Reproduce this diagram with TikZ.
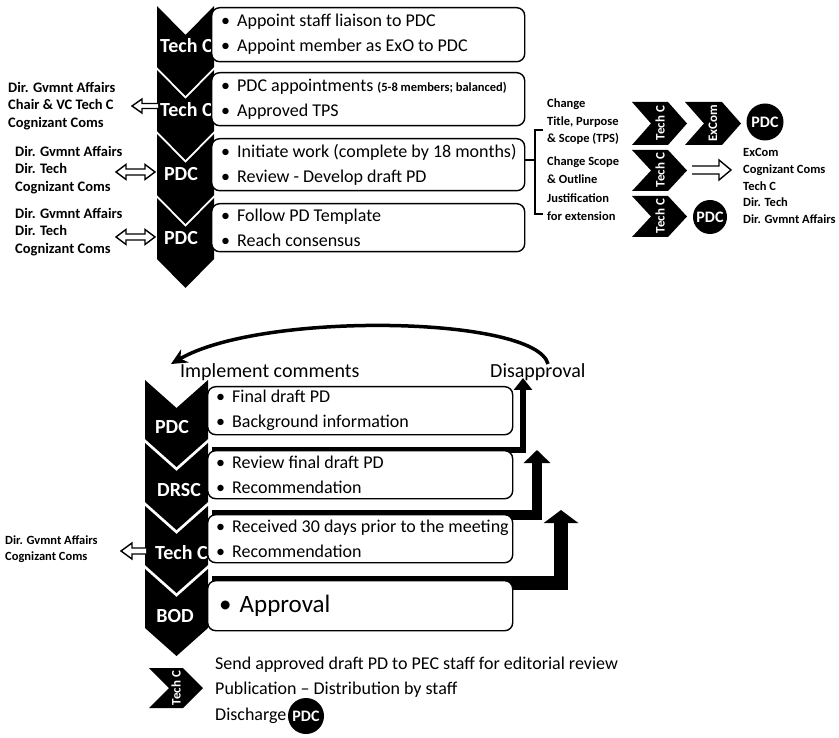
\documentclass[tikz,border=0pt]{standalone}
\usepackage{fontspec}
\setmainfont{Carlito}
\usetikzlibrary{arrows.meta,calc}
\newcommand{\mydchev}[5]{\fill (#1,#3) -- ({(#1+#2)/2},{#3+#5}) -- (#2,#3) -- (#2,{#3+#4}) -- ({(#1+#2)/2},{#3+#4+#5}) -- (#1,{#3+#4}) -- cycle;}
\newcommand{\myrchev}[5]{\fill (#1,#2) -- ({#1+#3},#2) -- ({#1+#3+#5},{#2+#4/2}) -- ({#1+#3},{#2+#4}) -- (#1,{#2+#4}) -- ({#1+#5},{#2+#4/2}) -- cycle;}
% hollow block arrow: tail x, tip x, y, shaft half height, head half height, head length
\newcommand{\myharrow}[6]{%
  \pgfmathsetmacro{\mySgn}{(#2>#1)?1:-1}%
  \draw[hollowblock] (#1,{#3-#4}) -- ({#2-\mySgn*#6},{#3-#4}) -- ({#2-\mySgn*#6},{#3-#5}) -- (#2,#3) -- ({#2-\mySgn*#6},{#3+#5}) -- ({#2-\mySgn*#6},{#3+#4}) -- (#1,{#3+#4});}
% double-headed hollow block arrow: left tip, right tip, y, shaft half, head half, head length
\newcommand{\myhdarrow}[6]{%
  \draw[hollowblock] (#1,#3) -- ({#1+#6},{#3-#5}) -- ({#1+#6},{#3-#4}) -- ({#2-#6},{#3-#4}) -- ({#2-#6},{#3-#5}) -- (#2,#3) -- ({#2-#6},{#3+#5}) -- ({#2-#6},{#3+#4}) -- ({#1+#6},{#3+#4}) -- ({#1+#6},{#3+#5}) -- cycle;}
\begin{document}
\begin{tikzpicture}[x=1pt,y=-1pt,
  box/.style={draw=black, line width=1.4pt, fill=white, rounded corners=8pt, anchor=north west, inner sep=0pt},
  btxt/.style={anchor=west, align=left, inner sep=0pt, font=\fontsize{18}{25}\selectfont},
  clab/.style={text=white, font=\fontsize{20}{20}\selectfont\bfseries, inner sep=0pt},
  slab/.style={text=white, font=\fontsize{13}{13}\selectfont\bfseries, inner sep=0pt, rotate=90},
  side/.style={anchor=west, align=left, inner sep=0pt, font=\fontsize{14.5}{17.5}\selectfont\bfseries},
  sidesmall/.style={anchor=west, align=left, inner sep=0pt, font=\fontsize{12.5}{16}\selectfont\bfseries},
  rside/.style={anchor=west, align=left, inner sep=0pt, font=\fontsize{12.5}{17.5}\selectfont\bfseries},
  circ/.style={circle, fill=black, text=white, minimum size=37pt, inner sep=0pt, font=\fontsize{16}{16}\selectfont\bfseries},
  hollowblock/.style={draw=black, line width=1.4pt, fill=white, line join=miter},
  big/.style={anchor=west, inner sep=0pt, font=\fontsize{20}{20}\selectfont},
  bottxt/.style={anchor=west, inner sep=0pt, font=\fontsize{18}{18}\selectfont},
]
\useasboundingbox (0,0) rectangle (839,738);

% ---------- upper chevrons ----------
\mydchev{157}{214}{6}{61}{29}
\mydchev{157}{214}{70}{61}{29}
\mydchev{157}{214}{134}{61}{29}
\mydchev{157}{214}{198}{61}{29}
\node[clab, anchor=west] (c1) at (160,46) {Tech C};
\node[clab, anchor=west] (c2) at (160,110) {Tech C};
\node[clab] (c3) at (181,174) {PDC};
\node[clab] (c4) at (181,238) {PDC};

% ---------- upper boxes ----------
\node[box, minimum width=313pt, minimum height=54pt] (b1) at (211,7) {};
\node[box, minimum width=313pt, minimum height=53pt] (b2) at (211,72) {};
\node[box, minimum width=313pt, minimum height=52pt] (b3) at (211,138) {};
\node[box, minimum width=313pt, minimum height=48pt] (b4) at (211,203) {};
\node[btxt] (t1) at ([xshift=10pt]b1.west) {\textbullet\hspace{7pt}Appoint staff liaison to PDC\\\textbullet\hspace{7pt}Appoint member as ExO to PDC};
\node[btxt] (t2) at ([xshift=10pt]b2.west) {\textbullet\hspace{7pt}PDC appointments {\fontsize{12.5}{14}\selectfont\bfseries (5-8 members; balanced)}\\\textbullet\hspace{7pt}Approved TPS};
\node[btxt] (t3) at ([xshift=10pt]b3.west) {\textbullet\hspace{7pt}Initiate work (complete by 18 months)\\\textbullet\hspace{7pt}Review - Develop draft PD};
\node[btxt] (t4) at ([xshift=10pt]b4.west) {\textbullet\hspace{7pt}Follow PD Template\\\textbullet\hspace{7pt}Reach consensus};

% ---------- upper left labels ----------
\node[side] (l2) at (8,106) {Dir. Gvmnt Affairs\\Chair \& VC Tech C\\Cognizant Coms};
\node[side] (l3) at (15,170) {Dir. Gvmnt Affairs\\Dir. Tech\\Cognizant Coms};
\node[side] (l4) at (15,232) {Dir. Gvmnt Affairs\\Dir. Tech\\Cognizant Coms};
\myharrow{158}{132}{106}{2.5}{7}{10}
\myhdarrow{116}{155}{172}{3}{7.5}{10}
\myhdarrow{116}{155}{237}{3}{7.5}{10}

% ---------- bracket and right side ----------
\coordinate (brm) at (535,160);
\draw[line width=2.5pt] (b3.east |- brm) -- (brm);
\draw[line width=2.5pt] (543,130) -- (535,130) -- (535,214) -- (543,214);
\node[rside] (r1) at (547,122) {Change\\Title, Purpose\\\& Scope (TPS)};
\node[rside] (r2) at (547,170) {Change Scope\\\& Outline};
\node[rside] (r3) at (547,207) {Justification\\for extension};

\myrchev{632}{102}{36}{43}{19}
\myrchev{685}{102}{37}{43}{19}
\node[slab] (s1) at (660,123) {Tech C};
\node[slab] (s2) at (713,123) {ExCom};
\node[circ] (p1) at (765,122) {PDC};

\myrchev{632}{150}{36}{41}{19}
\node[slab] (s3) at (660,170) {Tech C};
\myharrow{692}{731}{170}{4}{10}{12}
\node[rside, font=\fontsize{12.5}{16.8}\selectfont\bfseries] (r4) at (743,186) {ExCom\\Cognizant Coms\\Tech C\\Dir. Tech\\Dir. Gvmnt Affairs};

\myrchev{632}{196}{36}{41}{19}
\node[slab] (s4) at (660,216) {Tech C};
\node[circ, minimum size=34pt] (p2) at (710,217) {PDC};

% ---------- lower section ----------
\node[big] (impl) at (180,372) {Implement comments};
\node[big] (dis) at (490,372) {Disapproval};
\coordinate (arcA) at (548,364); \coordinate (arcB) at (171,364);
\draw[line width=3.5pt, -{Stealth[length=16pt,width=15pt]}] (arcA) .. controls (536,316) and (262,311) .. (arcB);

\mydchev{145}{208}{380}{59}{28}
\mydchev{145}{208}{443}{59}{28}
\mydchev{145}{208}{506}{59}{28}
\mydchev{145}{208}{569}{59}{28}
\node[clab] (d1) at (172,427) {PDC};
\node[clab, anchor=west] (d2) at (157,490) {DRSC};
\node[clab, anchor=west] (d3) at (155,553) {Tech C};
\node[clab] (d4) at (175,616) {BOD};

% elbow arrows (behind boxes)
\coordinate (e1s) at (212,450); \coordinate (e1t) at (523,378);
\coordinate (e2s) at (212,515); \coordinate (e2t) at (537,450);
\coordinate (e3s) at (212,583); \coordinate (e3t) at (561,510);
\draw[line width=6pt, -{Triangle[width=18pt,length=12pt]}] (e1s) -| (e1t);
\draw[line width=10pt, -{Triangle[width=26pt,length=13pt]}] (e2s) -| (e2t);
\draw[line width=14pt, -{Triangle[width=34pt,length=13pt]}] (e3s) -| (e3t);

\node[box, minimum width=305pt, minimum height=48pt] (L1) at (207,386) {};
\node[box, minimum width=305pt, minimum height=48pt] (L2) at (207,450) {};
\node[box, minimum width=305pt, minimum height=48pt] (L3) at (207,514) {};
\node[box, minimum width=305pt, minimum height=50pt] (L4) at (207,580) {};
\node[btxt] (u1) at ([xshift=9pt]L1.west) {\textbullet\hspace{7pt}Final draft PD\\\textbullet\hspace{7pt}Background information};
\node[btxt] (u2) at ([xshift=9pt]L2.west) {\textbullet\hspace{7pt}Review final draft PD\\\textbullet\hspace{7pt}Recommendation};
\node[btxt] (u3) at ([xshift=9pt]L3.west) {\textbullet\hspace{7pt}Received 30 days prior to the meeting\\\textbullet\hspace{7pt}Recommendation};
\node[btxt, font=\fontsize{25}{25}\selectfont] (u4) at ([xshift=12pt]L4.west) {\textbullet\hspace{8pt}Approval};

\node[sidesmall] (l5) at (5,549) {Dir. Gvmnt Affairs\\Cognizant Coms};
\myharrow{146}{121}{551}{3}{8}{11}

% ---------- bottom ----------
\myrchev{149}{668}{34}{40}{20}
\node[slab] (s5) at (176,688) {Tech C};
\node[bottxt] (f1) at (215,665) {Send approved draft PD to PEC staff for editorial review};
\node[bottxt] (f2) at (215,690) {Publication -- Distribution by staff};
\node[bottxt] (f3) at (215,716) {Discharge};
\node[circ, minimum size=36pt] (p3) at (306,716) {PDC};
\end{tikzpicture}
\end{document}
